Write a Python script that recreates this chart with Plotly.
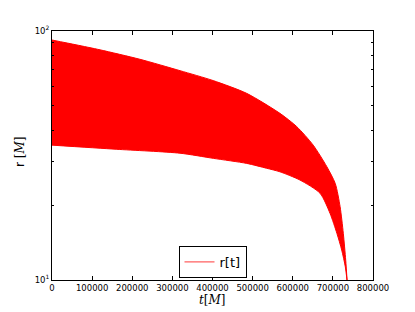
import plotly.graph_objects as go

# Envelope of the oscillating orbital radius r(t)
t_upper = [0, 60000, 120000, 219000, 319000, 402000, 485000, 568000, 610000, 651000, 685000, 706000, 718000, 726000, 732000, 735500]
r_upper = [92, 88, 84, 77, 69.3, 63.2, 56.2, 46.7, 41.3, 34.8, 28.5, 24.4, 19.7, 15.4, 12.0, 9.9]

t_lower = [0, 160000, 319000, 402000, 485000, 535000, 568000, 618000, 668000, 693000, 710000, 722000, 731000, 735500]
r_lower = [34.8, 33.5, 32.3, 30.8, 29.4, 28.1, 27.2, 25.2, 22.3, 18.5, 15.4, 13.2, 11.3, 9.9]

x_tickvals = [0, 100000, 200000, 300000, 400000, 500000, 600000, 700000, 800000]
x_ticktext = ["0", "100000", "200000", "300000", "400000", "500000", "600000", "700000", "800000"]
y_tickvals = [10, 100]
y_ticktext = ["10<sup>1</sup>", "10<sup>2</sup>"]
y_minor = [20, 30, 40, 50, 60, 70, 80, 90]

fig = go.Figure()
# lower edge first, then upper edge filled down to it
fig.add_trace(go.Scatter(x=t_lower, y=r_lower, mode="lines",
                         line=dict(color="#ff0000", width=1, shape="spline", smoothing=0.7),
                         showlegend=False, hoverinfo="skip"))
fig.add_trace(go.Scatter(x=t_upper, y=r_upper, mode="lines", fill="tonexty", fillcolor="#ff0000",
                         line=dict(color="#ff0000", width=1, shape="spline", smoothing=0.7),
                         showlegend=False, hoverinfo="skip"))
fig.add_trace(go.Scatter(x=[None], y=[None], mode="lines", name="r[t]",
                         line=dict(color="#ff6060", width=1.2)))

axis_common = dict(showline=True, linecolor="black", linewidth=1, mirror="ticks",
                   ticks="inside", tickcolor="black", ticklen=4, tickwidth=1,
                   showgrid=False, zeroline=False, automargin=False,
                   tickfont=dict(family="DejaVu Sans", size=8.5, color="black"))

fig.update_xaxes(range=[0, 800000], tickvals=x_tickvals, ticktext=x_ticktext, **axis_common)
fig.update_yaxes(type="log", range=[1, 2], tickvals=y_tickvals, ticktext=y_ticktext,
                 minor=dict(tickvals=y_minor, ticks="inside", ticklen=2, tickcolor="black"),
                 **axis_common)

fig.add_annotation(text="<i>t</i>[<i>M</i>]", xref="paper", yref="paper", x=0.5, y=-0.082,
                   xanchor="center", yanchor="middle", showarrow=False,
                   font=dict(family="DejaVu Serif", size=12, color="black"))
fig.add_annotation(text="r <span style='font-family:DejaVu Serif'>[<i>M</i>]</span>",
                   xref="paper", yref="paper", x=-0.1, y=0.514, textangle=-90,
                   xanchor="center", yanchor="middle", showarrow=False,
                   font=dict(family="DejaVu Sans", size=12, color="black"))

fig.update_layout(
    width=415, height=312,
    margin=dict(l=52, r=42, t=31, b=32, autoexpand=False),
    plot_bgcolor="white", paper_bgcolor="white",
    legend=dict(x=0.5, xanchor="center", y=0.008, yanchor="bottom",
                bgcolor="white", bordercolor="black", borderwidth=1,
                font=dict(family="DejaVu Sans", size=13, color="black"),
                itemwidth=30),
)

fig.write_html("out.html", config={"displayModeBar": False},
               post_script="document.body.style.margin='0';document.body.style.padding='0';")
